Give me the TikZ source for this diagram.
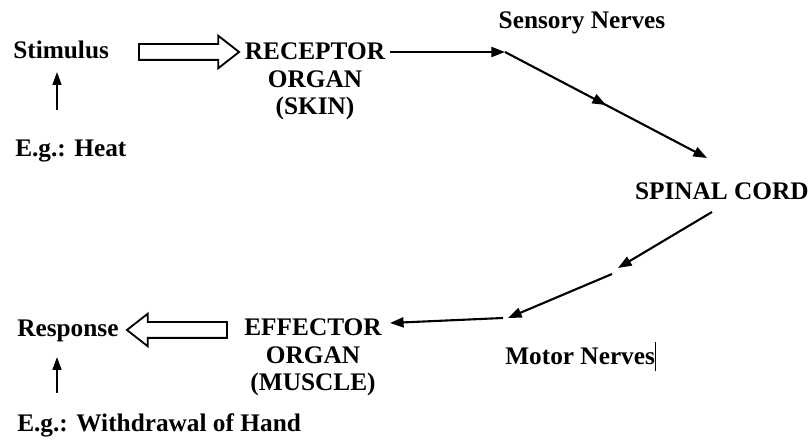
\documentclass[tikz,border=0pt]{standalone}
\usepackage{fontspec}
\newfontfamily\lblfont{Liberation Serif Bold}
\usetikzlibrary{arrows.meta,shapes.arrows,decorations.markings}

\tikzset{
  lbl/.style={font=\lblfont\fontsize{18}{19.8}\selectfont,inner sep=0pt,align=center},
  nerve/.style={line width=1.5pt,-{Triangle[length=0.34cm,width=0.25cm]}},
  midarrow/.style={postaction={decorate},decoration={markings,
      mark=at position 0.5 with {\arrow{Triangle[length=0.34cm,width=0.25cm]}}}},
  hollow/.style={single arrow,draw,line width=1.3pt,inner sep=0.175cm,minimum height=2.5cm,
      single arrow head extend=0.21cm,single arrow tip angle=76}
}

\begin{document}
\begin{tikzpicture}[x=0.025cm,y=-0.025cm]
  \useasboundingbox (0,0) rectangle (809,444);

  \begin{scope}[every node/.style={lbl}]
    \node[anchor=base west] (st)   at (13,59)   {Stimulus};
    \node[anchor=base west] (heat) at (15,157)  {E.g.: Heat};
    \node[anchor=base]      (rec)  at (315,115) {RECEPTOR\\ORGAN\\(SKIN)};
    \node[anchor=base]      (sn)   at (582,29)  {Sensory Nerves};
    \node[anchor=base east] (sc)   at (809,200) {SPINAL CORD};
    \node[anchor=base]      (eff)  at (313,391) {EFFECTOR\\ORGAN\\(MUSCLE)};
    \node[anchor=base west] (mn)   at (505,365) {Motor Nerves\rule[-0.25em]{0.6pt}{1.15em}};
    \node[anchor=base west] (resp) at (17,337)  {Response};
    \node[anchor=base west] (wd)   at (17,432)  {E.g.: Withdrawal of Hand};
  \end{scope}

  % hollow arrows
  \node[hollow] (in)  at (184,52)  {};
  \node[hollow,shape border rotate=180] (out) at (182,330) {};

  % corners of the nerve path
  \coordinate (r1) at (390,52);
  \coordinate (s1) at (505,52);
  \coordinate (s2) at (707,158);
  \coordinate (c1) at (712,212);
  \coordinate (m1) at (618,268);
  \coordinate (m2) at (612,274);
  \coordinate (m3) at (508,318);
  \coordinate (m4) at (503,318);
  \coordinate (e1) at (390,323);

  \draw[nerve] (r1) -- (s1);
  \draw[nerve,midarrow] (s1) -- (s2);
  \draw[nerve] (c1) -- (m1);
  \draw[nerve] (m2) -- (m3);
  \draw[nerve] (m4) -- (e1);

  % examples
  \coordinate (h0) at (57,110);
  \coordinate (h1) at (57,72);
  \coordinate (w0) at (57,393);
  \coordinate (w1) at (57,357);
  \draw[line width=1.2pt,-{Triangle[length=0.32cm,width=0.22cm]}] (h0) -- (h1);
  \draw[line width=1.2pt,-{Triangle[length=0.32cm,width=0.22cm]}] (w0) -- (w1);

\end{tikzpicture}
\end{document}
